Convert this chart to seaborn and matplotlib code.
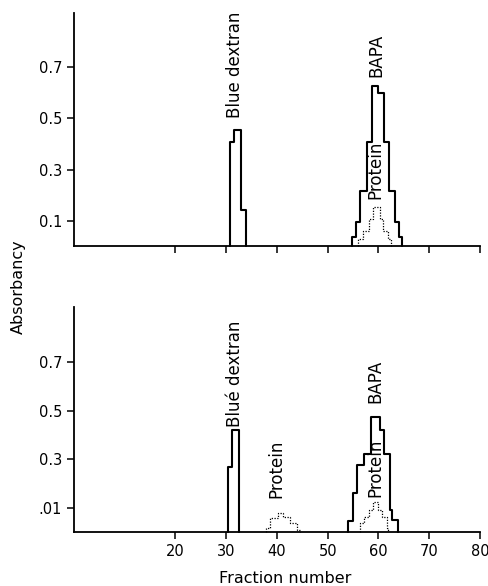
import pandas as pd
import numpy as np
import matplotlib
matplotlib.use('Agg')
import matplotlib.pyplot as plt
import seaborn as sns

# step profiles: bin edges (fraction number) and absorbancy
top_dextran_edges = [30.8, 31.6, 33.0, 33.9]
top_dextran_abs = [0.407, 0.454, 0.144]

top_bapa_edges = [54.8, 55.5, 56.3, 57.8, 58.7, 59.9, 61.1, 62.1, 63.2, 64.0, 64.6]
top_bapa_abs = [0.037, 0.095, 0.217, 0.406, 0.624, 0.600, 0.406, 0.217, 0.095, 0.037]

top_protein_edges = [56.0, 56.9, 58.1, 58.9, 60.2, 60.9, 61.9, 62.5]
top_protein_abs = [0.03, 0.062, 0.108, 0.153, 0.108, 0.062, 0.03]

bot_dextran_edges = [30.4, 31.2, 32.5]
bot_dextran_abs = [0.27, 0.42]

bot_protein1_edges = [37.9, 38.6, 40.2, 41.2, 42.5, 44.0, 44.5]
bot_protein1_abs = [0.02, 0.06, 0.078, 0.065, 0.037, 0.01]

bot_bapa_edges = [53.9, 54.9, 55.8, 57.1, 58.5, 60.2, 61.0, 62.2, 62.7, 63.8]
bot_bapa_abs = [0.048, 0.16, 0.276, 0.32, 0.475, 0.42, 0.32, 0.092, 0.05]

bot_protein2_edges = [56.3, 57.1, 58.1, 58.9, 59.9, 60.6, 61.6, 61.9]
bot_protein2_abs = [0.04, 0.062, 0.092, 0.123, 0.092, 0.062, 0.02]

x_ticks = [20, 30, 40, 50, 60, 70, 80]
y_ticks = [0.1, 0.3, 0.5, 0.7]
top_ylabels = ['0.1', '0.3', '0.5', '0.7']
bot_ylabels = ['.01', '0.3', '0.5', '0.7']


def steps(edges, heights):
    # turn bins into a closed step outline that starts and ends on the baseline
    x = [edges[0]] + list(edges)
    y = [0] + list(heights) + [0]
    return pd.DataFrame({'fraction': x, 'absorbancy': y})


sns.set_style('ticks')
plt.rcParams['font.family'] = ['DejaVu Sans']
plt.rcParams['text.color'] = 'black'

fig = plt.figure(figsize=(4.88, 5.86), dpi=100)
ax_top = fig.add_axes([0.1516, 0.5794, 0.832, 0.3984])
ax_bot = fig.add_axes([0.1516, 0.0915, 0.832, 0.3846])

solid = dict(color='black', lw=1.5, drawstyle='steps-post', estimator=None, sort=False)
dotted = dict(color='black', lw=0.9, ls=(0, (1, 1.2)), drawstyle='steps-post',
              estimator=None, sort=False)

# top panel
sns.lineplot(data=steps(top_dextran_edges, top_dextran_abs), x='fraction', y='absorbancy', ax=ax_top, **solid)
sns.lineplot(data=steps(top_bapa_edges, top_bapa_abs), x='fraction', y='absorbancy', ax=ax_top, **solid)
sns.lineplot(data=steps(top_protein_edges, top_protein_abs), x='fraction', y='absorbancy', ax=ax_top, **dotted)

# bottom panel
sns.lineplot(data=steps(bot_dextran_edges, bot_dextran_abs), x='fraction', y='absorbancy', ax=ax_bot, **solid)
sns.lineplot(data=steps(bot_protein1_edges, bot_protein1_abs), x='fraction', y='absorbancy', ax=ax_bot, **dotted)
sns.lineplot(data=steps(bot_bapa_edges, bot_bapa_abs), x='fraction', y='absorbancy', ax=ax_bot, **solid)
sns.lineplot(data=steps(bot_protein2_edges, bot_protein2_abs), x='fraction', y='absorbancy', ax=ax_bot, **dotted)

ann = dict(rotation=90, ha='center', va='bottom', fontsize=12, color='black')
ax_top.text(31.7, 0.50, 'Blue dextran', **ann)
ax_top.text(59.6, 0.66, 'BAPA', **ann)
ax_top.text(59.4, 0.185, 'Protein', **ann)
ax_bot.text(31.8, 0.434, 'Blué dextran', **ann)
ax_bot.text(59.4, 0.53, 'BAPA', **ann)
ax_bot.text(39.9, 0.14, 'Protein', **ann)
ax_bot.text(59.3, 0.146, 'Protein', **ann)

for ax, ylab, ytop in [(ax_top, top_ylabels, 0.91), (ax_bot, bot_ylabels, 0.925)]:
    ax.set_xlim(0, 80)
    ax.set_ylim(0, ytop)
    ax.set_xticks(x_ticks)
    ax.set_yticks(y_ticks)
    ax.set_yticklabels(ylab)
    ax.set_xlabel('')
    ax.set_ylabel('')
    ax.tick_params(direction='out', length=5, width=1.1, labelsize=10.5, colors='black')
    for s in ['top', 'right']:
        ax.spines[s].set_visible(False)
    for s in ['left', 'bottom']:
        ax.spines[s].set_linewidth(1.3)
        ax.spines[s].set_color('black')
    for line in ax.lines:
        line.set_clip_on(False)

ax_top.tick_params(labelbottom=False)
ax_bot.set_xlabel('Fraction number', fontsize=11.5, color='black')
ax_bot.xaxis.set_label_coords(0.52, -0.17)

fig.text(0.037, 0.51, 'Absorbancy', rotation=90, ha='center', va='center', fontsize=11.5, color='black')

plt.savefig('out.png', dpi=100)
